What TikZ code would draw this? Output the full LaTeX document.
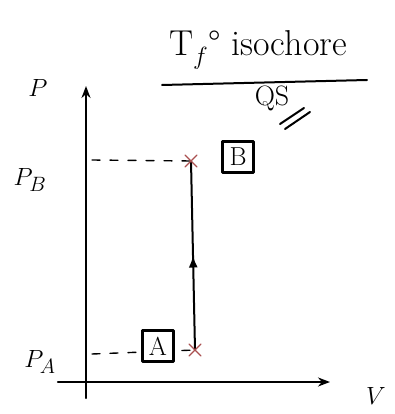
\documentclass[tikz,border=0pt]{standalone}
\usetikzlibrary{arrows.meta,decorations.markings,calc}
\definecolor{crossred}{RGB}{170,80,80}
\begin{document}
\begin{tikzpicture}[x=1pt, y=-1pt, line cap=round, line join=round,
    lbl/.style={font=\fontsize{28}{32}\selectfont},
    statebox/.style={draw, fill=white, line width=2.4pt, minimum size=31pt, inner sep=0pt, font=\fontsize{26}{30}\selectfont},
    cross/.style={crossred, line width=1.4pt}]
    \useasboundingbox (0,0) rectangle (394,414);
    \coordinate (xstart) at (58,382);
    \coordinate (xend) at (330,382);
    \coordinate (ystart) at (86,398);
    \coordinate (yend) at (86,86);
    \coordinate (A) at (195,350);
    \coordinate (B) at (191,161);
    \coordinate (dA) at (92,354);
    \coordinate (dB) at (92,160);
    \draw[line width=2.2pt,-{Stealth[length=12pt]}] (xstart) -- (xend);
    \draw[line width=2.2pt,-{Stealth[length=12pt]}] (ystart) -- (yend);
    \node[lbl] (labP) at (38,88) {$P$};
    \node[lbl] (labV) at (376,396) {$V$};
    \node[lbl] (labPB) at (30,180) {$P_B$};
    \node[lbl] (labPA) at (40,362) {$P_A$};
    \draw[line width=1.4pt,dash pattern=on 8pt off 10pt] (dB) -- (B);
    \draw[line width=1.4pt,dash pattern=on 8pt off 10pt] (dA) -- (A);
    \draw[line width=2pt, postaction={decorate}, decoration={markings, mark=at position 0.5 with {\arrow{Latex[length=12pt,width=9pt]}}}] (A) -- (B);
    \foreach \p in {A,B} {
        \draw[cross] ($(\p)+(-6,-6)$) -- ($(\p)+(6,6)$);
        \draw[cross] ($(\p)+(-6,6)$) -- ($(\p)+(6,-6)$);
    }
    \node[statebox] (boxA) at (158,346) {A};
    \node[statebox] (boxB) at (238,157) {B};
    \node[font=\fontsize{36}{40}\selectfont] (title) at (258,50) {T$_f$\textdegree\ isochore};
    \draw[line width=2pt] (162,85) -- (367,80);
    \node[font=\fontsize{28}{32}\selectfont] (qs) at (272,98) {QS};
    \draw[line width=2pt] (280,124) -- (304,108);
    \draw[line width=2pt] (285,129) -- (310,112);
\end{tikzpicture}
\end{document}
